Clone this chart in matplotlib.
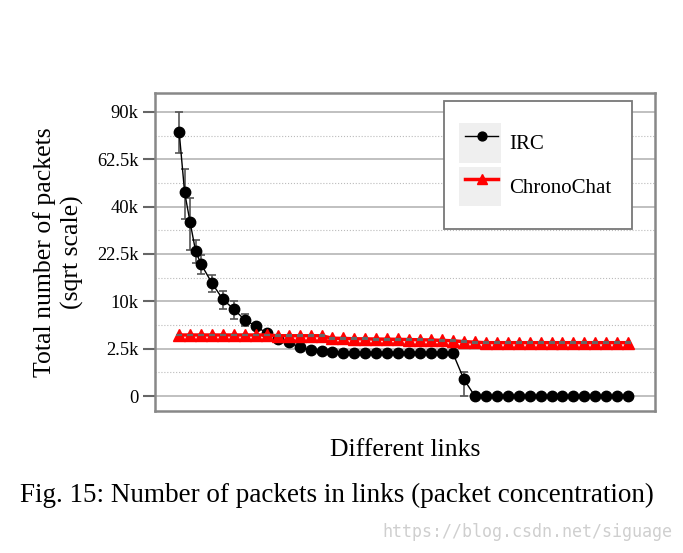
import numpy as np
import matplotlib
matplotlib.use('Agg')
import matplotlib.pyplot as plt
from matplotlib.legend_handler import HandlerLine2D
from matplotlib.patches import Rectangle

# ---- data ----
irc_x = [0, 0.5, 1, 1.5, 2] + list(range(3, 42))
irc_y = [78000, 46300, 33700, 23500, 19400, 14200, 10400, 8400, 6450, 5470,
         4380, 3620, 3220, 2650, 2360, 2230, 2160] + [2040] * 11 + [310] + [0] * 15
irc_err = [12000, 11300, 10000, 3700, 2800, 2100, 2000, 1750, 1000, 300,
           250, 200, 150, 120, 100, 80, 60] + [40] * 11 + [310] + [0] * 15

chrono_x = list(range(42))
chrono_y = [4150] * 9 + [4050] * 5 + [3720, 3700, 3650, 3640, 3620, 3600, 3580,
            3550, 3520, 3500, 3450, 3400, 3300, 3230] + [3170] * 14
chrono_err = [60] * 42

tick_vals = [0, 2500, 10000, 22500, 40000, 62500, 90000]
tick_labels = ['0', '2.5k', '10k', '22.5k', '40k', '62.5k', '90k']
minor_vals = [625, 5625, 15625, 30625, 50625, 75625]


def fwd(v):
    v = np.asarray(v, dtype=float)
    return np.sign(v) * np.sqrt(np.abs(v))


def inv(s):
    s = np.asarray(s, dtype=float)
    return np.sign(s) * s ** 2


class BoxedHandler(HandlerLine2D):
    """Legend handle drawn over a light grey box."""
    def create_artists(self, legend, orig_handle, xdescent, ydescent,
                       width, height, fontsize, trans):
        arts = super().create_artists(legend, orig_handle, xdescent, ydescent,
                                      width, height, fontsize, trans)
        rect = Rectangle((-xdescent - 4.5, -ydescent + 1.2), width + 6, height - 2.4,
                         facecolor='#efefef', edgecolor='none', transform=trans)
        return [rect] + list(arts)


plt.rcParams['font.family'] = ['Liberation Serif', 'DejaVu Serif']

fig = plt.figure(figsize=(6.83, 5.53), dpi=100)
ax = fig.add_axes([0.227, 0.2568, 0.732, 0.575])
ax.set_yscale('function', functions=(fwd, inv))

ax.errorbar(irc_x, irc_y, yerr=irc_err, fmt='none', ecolor='#555555',
            elinewidth=1.2, capsize=3, capthick=1.2, zorder=2)
l_irc, = ax.plot(irc_x, irc_y, color='black', lw=1, marker='o',
                 markersize=7.5, markerfacecolor='black', zorder=3, label='IRC')

l_chr, = ax.plot(chrono_x, chrono_y, color='red', lw=2.5, marker='^',
                 markersize=9, markeredgecolor='red', zorder=4, label='ChronoChat')
ax.errorbar(chrono_x, chrono_y, yerr=chrono_err, fmt='none', ecolor='#666666',
            elinewidth=1, capsize=2.5, capthick=1.5, zorder=5)

ax.set_xlim(-2.2, 43.45)
ax.set_ylim(-250, 102400)
ax.set_xticks([])
ax.set_yticks(tick_vals)
ax.set_yticklabels(tick_labels, fontsize=13.3)
ax.set_yticks(minor_vals, minor=True)
ax.tick_params(axis='y', which='major', length=9, width=1.5, color='#666666', pad=3)
ax.tick_params(axis='y', which='minor', length=0)
ax.grid(True, axis='y', which='major', color='#bbbbbb', lw=1.3)
ax.grid(True, axis='y', which='minor', color='#bbbbbb', lw=0.8, ls=':')
ax.set_axisbelow(True)
for sp in ax.spines.values():
    sp.set_color('#888888')
    sp.set_linewidth(1.8)

ax.set_ylabel('Total number of packets\n(sqrt scale)', fontsize=18.5, labelpad=9,
              linespacing=1.3)
ax.set_xlabel('Different links', fontsize=18.5, labelpad=20)

leg = ax.legend(handles=[l_irc, l_chr], loc='upper right', fontsize=15,
                handler_map={l_irc: BoxedHandler(), l_chr: BoxedHandler()},
                bbox_to_anchor=(0.954, 0.975), borderpad=1.0, labelspacing=0.02,
                handlelength=1.6, handleheight=2.78, handletextpad=0.5,
                fancybox=False, markerscale=0.85, edgecolor='#777777',
                framealpha=1, borderaxespad=0)
leg.get_frame().set_linewidth(1.3)

fig.text(0.494, 0.105, 'Fig. 15: Number of packets in links (packet concentration)',
         ha='center', va='center', fontsize=19.5)
fig.text(0.985, 0.038, 'https://blog.csdn.net/siguage', ha='right', va='center',
         fontsize=12, color='#cfcfcf', family='DejaVu Sans Mono')

fig.savefig('out.png', dpi=100)
